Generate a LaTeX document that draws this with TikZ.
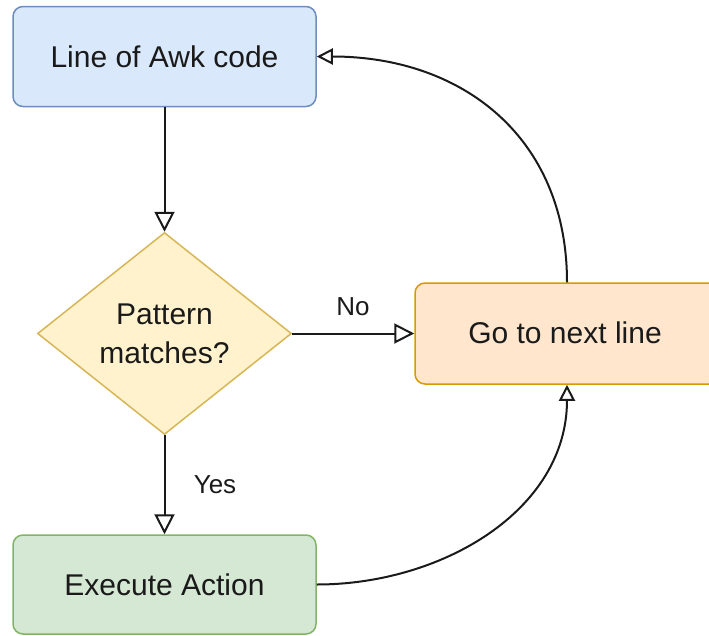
\documentclass[tikz,border=0pt]{standalone}
\usepackage{fontspec}
\setmainfont{Liberation Sans}
\usetikzlibrary{shapes.geometric,arrows.meta}

\definecolor{blueFill}{HTML}{DAE8FC}
\definecolor{blueLine}{HTML}{6C8EBF}
\definecolor{yellowFill}{HTML}{FFF2CC}
\definecolor{yellowLine}{HTML}{D6B656}
\definecolor{orangeFill}{HTML}{FFE6CC}
\definecolor{orangeLine}{HTML}{D79B00}
\definecolor{greenFill}{HTML}{D5E8D4}
\definecolor{greenLine}{HTML}{82B366}
\definecolor{ink}{HTML}{1A1A1A}

\tikzset{
  stepbox/.style={rectangle, rounded corners=10pt, line width=1.5pt,
    minimum width=303pt, minimum height=100pt, inner sep=0pt,
    text=ink, font=\fontsize{30}{36}\selectfont},
  decision/.style={diamond, aspect=1.26, line width=1.5pt,
    minimum width=254pt, minimum height=202pt, inner sep=0pt,
    text=ink, align=center, font=\fontsize{30}{39}\selectfont},
  flow/.style={line width=2pt, draw=ink,
    -{Triangle[open, length=20pt, width=20pt, line width=2pt]}},
  flowcurve/.style={line width=2pt, draw=ink,
    -{Triangle[open, length=16pt, width=16pt, line width=2pt]}},
  edgelabel/.style={text=ink, font=\fontsize{26}{30}\selectfont, inner sep=0pt}
}

\begin{document}
\begin{tikzpicture}[x=1pt, y=1pt]
  \useasboundingbox (0,0) rectangle (709,-635);

  \node[stepbox, fill=blueFill, draw=blueLine] (line) at (164.5,-56.5) {Line of Awk code};
  \node[decision, fill=yellowFill, draw=yellowLine] (match) at (164.5,-333.5) {Pattern\\matches?};
  \node[stepbox, fill=orangeFill, draw=orangeLine, minimum width=304pt, minimum height=101pt] (next) at (567,-333.5) {};
  \node[text=ink, font=\fontsize{30}{36}\selectfont] (nexttext) at (565,-333) {Go to next line};
  \node[stepbox, fill=greenFill, draw=greenLine, minimum height=99pt] (exec) at (164.5,-584.5) {Execute Action};

  \draw[flow] (line.south) -- (match.north);
  \draw[flow] (match.east) -- (next.west);
  \draw[flow] (match.south) -- (exec.north);
  \draw[flowcurve] (exec.east) to[out=0, in=-90] (next.south);
  \draw[flowcurve] (next.north) to[out=90, in=0, looseness=1.1] (line.east);

  \node[edgelabel] (nolabel) at (353,-307) {No};
  \node[edgelabel] (yeslabel) at (215,-485) {Yes};
\end{tikzpicture}
\end{document}
